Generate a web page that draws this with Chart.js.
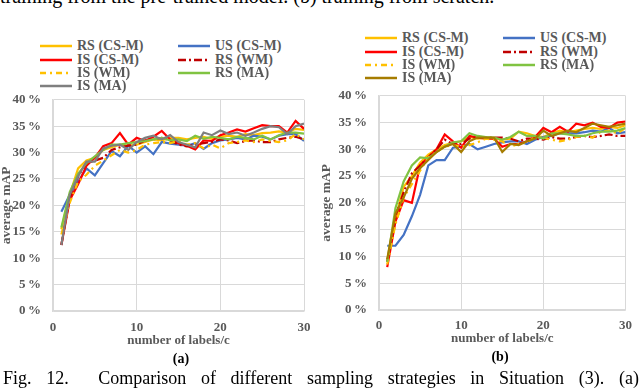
<!DOCTYPE html>
<html>
<head>
<meta charset="utf-8">
<script src="https://cdn.jsdelivr.net/npm/chart.js@4.4.0/dist/chart.umd.min.js"></script>
<style>
  body { margin: 0; width: 640px; height: 391px; overflow: hidden; background: #fff; position: relative; font-family: "Liberation Serif", serif; }
  .chartBox { position: absolute; width: 320px; height: 275px; }
  .cap { position: absolute; font-size: 18px; line-height: 18px; color: #000; white-space: nowrap; }
  .sub { position: absolute; font-weight: bold; font-size: 14px; color: #000; transform: translate(-50%, -50%); }
  .leg { position: absolute; font-weight: bold; font-size: 14px; line-height: 14px; color: #595959; white-space: nowrap; }
  .leg svg { position: absolute; left: 0; top: 4px; }
</style>
</head>
<body>
<div class="cap" style="left:0; top:-14px; font-size:20px; line-height:20px;">training from the pre-trained model. (b) training from scratch.</div>

<div class="chartBox" style="left:0; top:80px;"><canvas id="chartA"></canvas></div>
<div class="chartBox" style="left:320px; top:76px;"><canvas id="chartB"></canvas></div>
<div id="legendA"></div>
<div id="legendB"></div>

<div class="sub" style="left:181px; top:359px;">(a)</div>
<div class="sub" style="left:500px; top:357px;">(b)</div>
<div class="cap" style="left:3px; top:369px; width:636px; text-align:justify; text-align-last:justify;">Fig. 12.&nbsp; Comparison of different sampling strategies in Situation (3). (a)</div>

<script>
// number of labels per class
const labelsPerClass = [1, 2, 3, 4, 5, 6, 7, 8, 9, 10, 11, 12, 13, 14, 15, 16, 17, 18, 19, 20, 21, 22, 23, 24, 25, 26, 27, 28, 29, 30];
const seriesNames = ["RS (CS-M)", "US (CS-M)", "IS (CS-M)", "RS (WM)", "IS (WM)", "RS (MA)", "IS (MA)"];

// (a) training from the pre-trained model, average mAP in %
const rsCsmA = [15.5, 22, 27, 28.5, 29, 30.5, 31, 31.5, 31.3, 31.5, 32, 32.5, 32.3, 32.8, 32.8, 32.5, 32.8, 33, 32.6, 33, 33.2, 33, 33.5, 33.3, 33.7, 33.8, 34, 33.8, 34.5, 34.3];
const usCsmA = [18.8, 22, 24.5, 27, 25.7, 28, 30.3, 29.3, 31.3, 30, 31.2, 29.7, 32, 31.7, 31.5, 31.3, 31.8, 30.7, 31.8, 32.3, 32.5, 32.8, 32.5, 33.2, 33, 32.5, 33.2, 33.5, 33.5, 32.2];
const isCsmA = [12.5, 21, 24, 27.5, 29, 31.2, 31.8, 33.7, 31.5, 32.8, 32.2, 33, 34.1, 32.5, 31.8, 31.3, 30.6, 32.3, 32.2, 33.3, 33.8, 34.4, 34, 34.6, 35.2, 35, 35, 33.8, 36, 34.5];
const rsWmA = [12.5, 21.5, 25.5, 28, 28.5, 29, 30.5, 31, 31.3, 31.5, 32.3, 32.5, 32.8, 32.3, 31.5, 31.2, 31.5, 31.8, 32, 32.5, 32.3, 31.8, 32.2, 32.3, 32, 32, 32.5, 32.8, 33, 32.5];
const isWmA = [14.5, 20.5, 24.5, 25.8, 27.5, 28.5, 29.5, 30.5, 30, 30.5, 31.5, 31.8, 32, 31.8, 32.2, 31.5, 31.8, 30.8, 31.5, 30.8, 31.8, 32, 32.3, 32, 32.5, 32.2, 32, 32.3, 33.5, 32.5];
const rsMaA = [15.8, 22.5, 26, 28, 29.3, 30.5, 31.5, 31.5, 31.8, 32, 32.2, 32.5, 32.8, 32.3, 32.5, 32.2, 33.2, 32.6, 33, 32.8, 32.5, 33, 32.8, 32.5, 33.2, 32.5, 33.3, 33.8, 33.8, 33.6];
const isMaA = [12.5, 22, 25.5, 28.3, 28.3, 30.8, 31.3, 31.5, 30.5, 32, 32.8, 33.2, 32.5, 33.3, 32, 31.5, 31, 33.8, 33.3, 34.2, 33.5, 33.8, 33.2, 33.8, 34.5, 35, 34.8, 33.5, 35, 35.5];

// (b) training from scratch, average mAP in %
const rsCsmB = [9, 17, 23, 25, 27.5, 29, 30, 30.8, 31.2, 31.5, 32.3, 32, 32.2, 32, 31.8, 32, 33.3, 33, 32.5, 32.3, 33, 33.5, 33.2, 33.5, 33.8, 34, 33.8, 34.2, 34, 34.5];
const usCsmB = [12, 12, 14, 17.5, 21.5, 27, 28, 28, 30.3, 30.5, 31, 30, 30.5, 31, 31.3, 31.5, 31.5, 31, 31.8, 32.3, 32.5, 33, 33, 33, 33.2, 33.5, 33.3, 34, 33, 33.2];
const isCsmB = [8, 16.5, 20.5, 20, 27, 28.5, 30, 32.8, 31.5, 30.3, 32.5, 32.2, 32, 32, 30.5, 31, 31, 31.5, 32.3, 34, 33.2, 34.2, 33.3, 34.8, 34.5, 35, 34.2, 34, 35, 35.2];
const rsWmB = [9, 17.5, 22, 25.5, 27, 28.5, 30, 31.8, 31, 31, 32, 32.2, 32.2, 32.2, 32.2, 32, 31.5, 32, 32, 31.8, 32.3, 32, 32, 32.3, 32.5, 32.3, 32.5, 32.8, 32.5, 32.5];
const isWmB = [8.5, 16, 21, 23.5, 26, 28.5, 29.5, 30.5, 30.8, 30.5, 30.8, 31.3, 32, 31.8, 31.5, 30.5, 31, 31.3, 32.3, 32.2, 31.8, 31.5, 31.8, 32.3, 32.5, 32.2, 33.3, 33.5, 33, 34];
const rsMaB = [9, 19, 24, 27, 28.5, 28.3, 29.5, 30.5, 31.3, 31.5, 33, 32.5, 32.3, 32.2, 31.8, 32.3, 33.3, 32.5, 32.5, 32, 33, 33, 32.8, 32.5, 32.5, 33, 33.3, 33.3, 33.5, 34];
const isMaB = [9.5, 18, 21, 24.5, 26.5, 28, 29.5, 30.5, 31, 29.5, 31.5, 32.2, 32.2, 32.2, 29.5, 31, 30.8, 31.5, 32, 33.5, 32.5, 33, 33.5, 33.2, 34, 34.8, 34.5, 34.2, 34.5, 34.8];

const yTicks = [0, 5, 10, 15, 20, 25, 30, 35, 40];
const xTicks = [0, 10, 20, 30];

// line look of each series, same order as seriesNames
const stylesA = [
  { color: "#FFC000", dash: [] },
  { color: "#4472C4", dash: [] },
  { color: "#FF0000", dash: [] },
  { color: "#C00000", dash: [8, 3, 2, 3] },
  { color: "#FFC000", dash: [6, 4, 2, 4] },
  { color: "#80C342", dash: [] },
  { color: "#7F7F7F", dash: [] },
];
const stylesB = stylesA.map((s, i) => (i === 6 ? { color: "#A67C00", dash: [] } : s));

const textGray = "#595959";
const gridGray = "#D9D9D9";

function makeDatasets(seriesValues, styles) {
  return seriesValues.map((vals, i) => ({
    label: seriesNames[i],
    data: labelsPerClass.map((x, k) => ({ x: x, y: vals[k] })),
    borderColor: styles[i].color,
    backgroundColor: styles[i].color,
    borderDash: styles[i].dash,
    borderWidth: 2.2,
    pointRadius: 0,
    tension: 0,
    // later series sit on top like in the spreadsheet
    order: seriesValues.length - i,
  }));
}

function buildChart(canvasId, datasets, box) {
  const font = { family: "'Liberation Serif', serif", weight: "bold", size: 13 };
  return new Chart(document.getElementById(canvasId), {
    type: "line",
    data: { datasets: datasets },
    options: {
      responsive: true,
      maintainAspectRatio: false,
      animation: false,
      layout: { padding: { top: 15, right: box.padRight, left: 0, bottom: 0 } },
      plugins: { legend: { display: false }, tooltip: { enabled: false } },
      scales: {
        x: {
          type: "linear",
          min: 0,
          max: 30,
          afterBuildTicks: (axis) => { axis.ticks = xTicks.map((v) => ({ value: v })); },
          afterFit: (axis) => { axis.height = box.xHeight; },
          grid: { color: gridGray, lineWidth: 1, drawTicks: false },
          border: { color: gridGray, width: 1.5 },
          ticks: { color: textGray, font: font, padding: box.xTickPad, maxRotation: 0 },
          title: {
            display: true,
            text: "number of labels/c",
            color: textGray,
            font: { family: "'Liberation Serif', serif", weight: "bold", size: 13, lineHeight: 1.2 },
            padding: { top: 0, bottom: box.xTitlePad },
          },
        },
        y: {
          min: 0,
          max: 40,
          afterBuildTicks: (axis) => { axis.ticks = yTicks.map((v) => ({ value: v })); },
          afterFit: (axis) => { axis.width = box.yWidth; },
          grid: { color: gridGray, lineWidth: 1, drawTicks: false },
          border: { color: gridGray, width: 1.5 },
          ticks: { color: textGray, font: font, padding: 12, callback: (v) => v + "\u2009%" },
          title: {
            display: true,
            text: "average mAP",
            color: textGray,
            font: { family: "'Liberation Serif', serif", weight: "bold", size: 13.5, lineHeight: 1 },
            padding: { top: 0, bottom: 0 },
          },
        },
      },
    },
  });
}

// two column legend like the original figure
function buildLegend(holderId, datasets, cols, rows) {
  const holder = document.getElementById(holderId);
  datasets.forEach((ds, i) => {
    const item = document.createElement("div");
    item.className = "leg";
    item.style.left = cols[i % 2] + "px";
    item.style.top = rows[Math.floor(i / 2)] - 7 + "px";
    item.style.paddingLeft = "37px";
    const dash = ds.borderDash.length ? ` stroke-dasharray="${ds.borderDash.join(" ")}"` : "";
    item.innerHTML =
      `<svg width="32" height="6"><line x1="0" y1="3" x2="32" y2="3" stroke="${ds.borderColor}" stroke-width="2.5"${dash}/></svg>` +
      ds.label;
    holder.appendChild(item);
  });
}

const datasetsA = makeDatasets([rsCsmA, usCsmA, isCsmA, rsWmA, isWmA, rsMaA, isMaA], stylesA);
const datasetsB = makeDatasets([rsCsmB, usCsmB, isCsmB, rsWmB, isWmB, rsMaB, isMaB], stylesB);

buildChart("chartA", datasetsA, { padRight: 16, xHeight: 44, yWidth: 53, xTickPad: 9, xTitlePad: 7 });
buildChart("chartB", datasetsB, { padRight: 9, xHeight: 41, yWidth: 59, xTickPad: 8, xTitlePad: 5 });

buildLegend("legendA", datasetsA, [40, 178], [46, 59.5, 73, 86]);
buildLegend("legendB", datasetsB, [365, 503], [38, 52, 65, 78]);
</script>
</body>
</html>
